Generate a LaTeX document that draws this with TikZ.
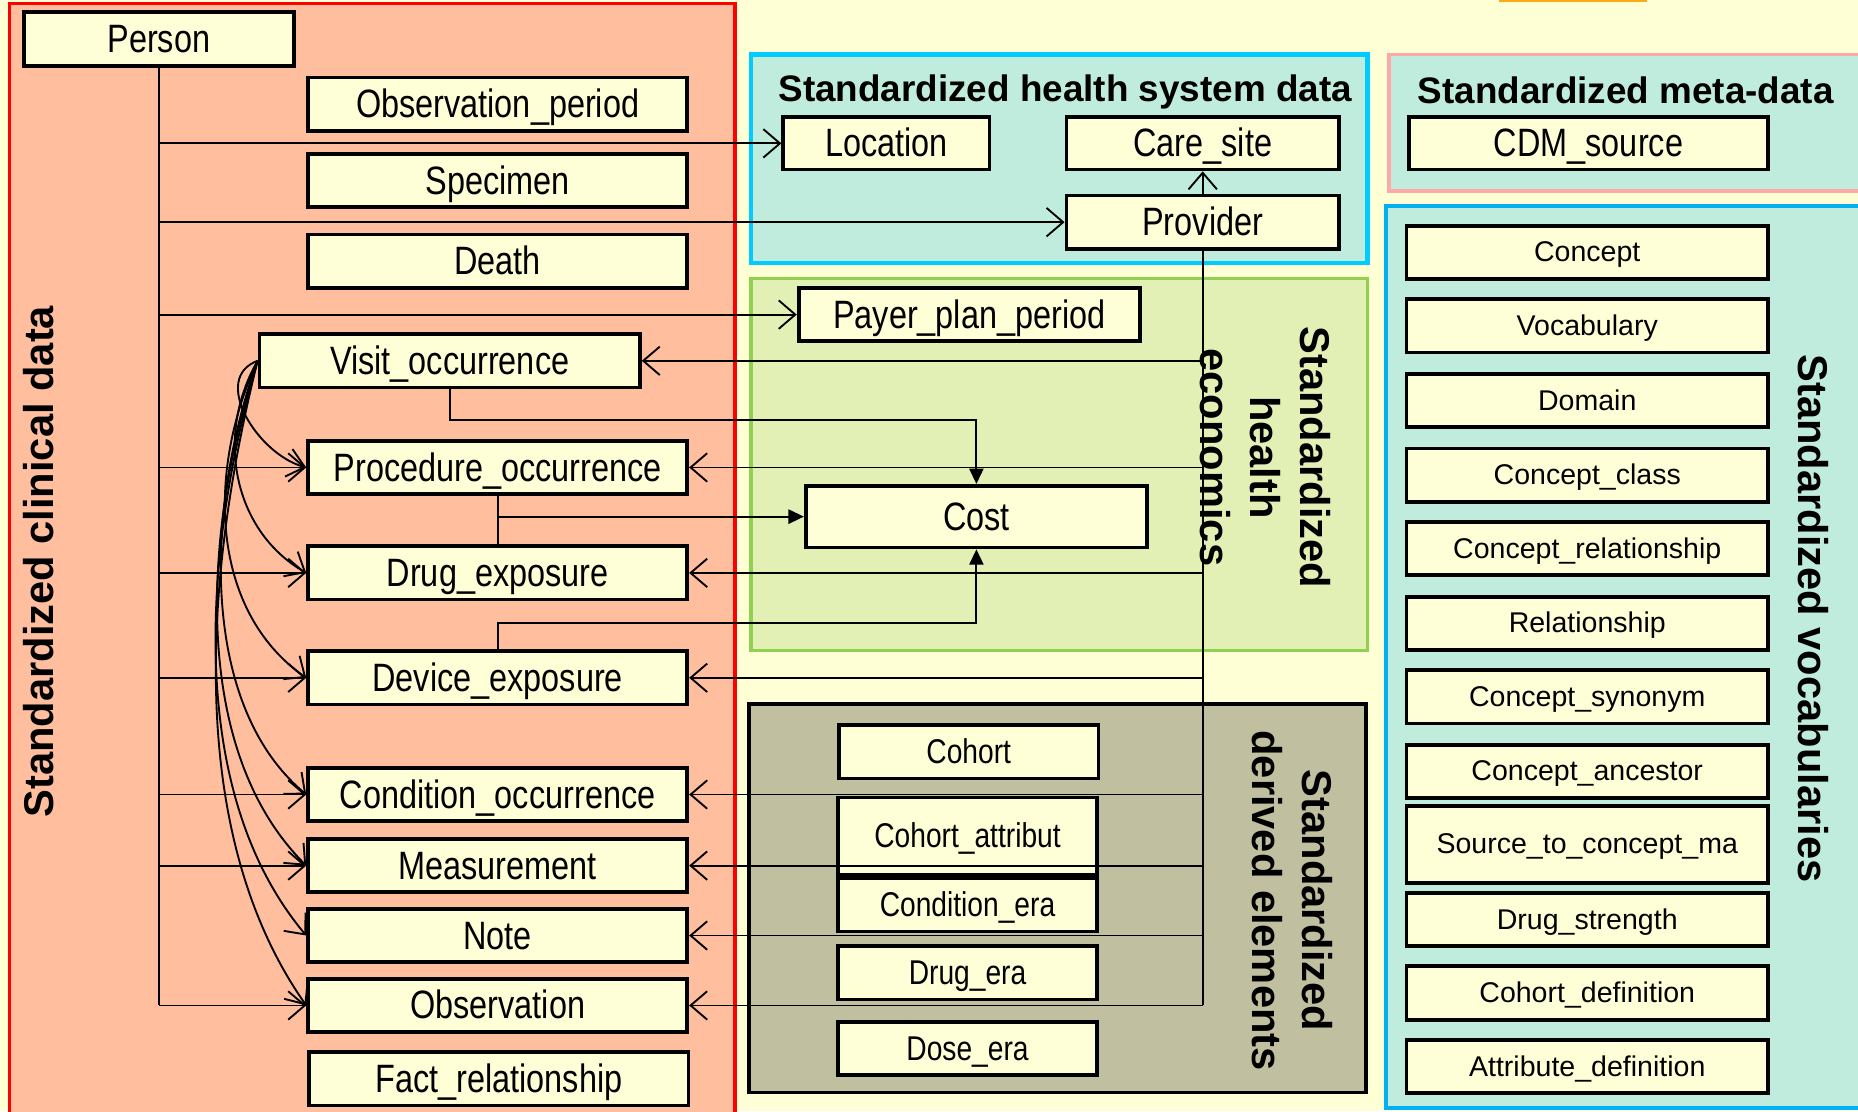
\documentclass[tikz,border=0pt]{standalone}
\usepackage{fontspec}
\setmainfont{Liberation Sans}
\newfontfamily\narrowfont[FakeStretch=0.82]{Liberation Sans}
\usepackage{xcolor}
\usepackage{tikz}
\usetikzlibrary{arrows.meta}

\definecolor{pagebg}{RGB}{255,255,213}
\definecolor{boxfill}{RGB}{255,255,215}
\definecolor{clinfill}{RGB}{255,190,158}
\definecolor{mintfill}{RGB}{192,236,222}
\definecolor{econfill}{RGB}{226,240,182}
\definecolor{econline}{RGB}{146,208,80}
\definecolor{derfill}{RGB}{192,192,160}
\definecolor{sysline}{RGB}{0,204,255}
\definecolor{vocline}{RGB}{0,176,240}
\definecolor{metaline}{RGB}{255,168,168}
\definecolor{tabcolor}{RGB}{250,170,20}

\newcommand{\tblfont}{\narrowfont\fontsize{19}{22}\selectfont}
\newcommand{\derfont}{\narrowfont\fontsize{16.5}{19}\selectfont}
\newcommand{\vocfont}{\fontsize{13.7}{16}\selectfont}
\newcommand{\hdrfont}{\bfseries\fontsize{17.7}{20}\selectfont}
\newcommand{\sidefont}{\bfseries\fontsize{20}{24}\selectfont}

\tikzset{
  tbl/.style={draw, line width=1.8pt, fill=boxfill, inner sep=0pt,
    minimum height=9mm, text height=13.4pt, text depth=0.4pt, font=\tblfont},
  clin/.style={tbl, minimum width=64mm},
  der/.style={tbl, minimum width=43.6mm, text height=11.6pt, font=\derfont},
  voc/.style={tbl, minimum width=61mm, text height=9.6pt, font=\vocfont},
  link/.style={line width=0.9pt},
  opn/.style={link, -{Straight Barb[length=2.8mm,width=4.8mm]}},
  fil/.style={link, -{Triangle[length=2.6mm,width=2.4mm]}}
}

\begin{document}
\begin{tikzpicture}[x=0.2mm, y=-0.2mm]
  \useasboundingbox (0,0) rectangle (1568,938);
  \clip (0,0) rectangle (1568,938);
  \fill[pagebg] (0,0) rectangle (1568,938);
  \fill[tabcolor] (1265,-2) rectangle (1390,1.5);

  % clinical data
  \filldraw[fill=clinfill, draw=red, line width=1.8pt] (8,3) rectangle (620,960);
  \node[font=\sidefont, rotate=90] (clintitle) at (33,474) {Standardized clinical data};
  \node[tbl, minimum width=45.6mm, minimum height=9.2mm] (person) at (134,33) {Person};
  \node[clin] (obsper) at (420,88) {Observation\_period};
  \node[clin] (spec) at (420,152.5) {Specimen};
  \node[clin] (death) at (420,220.5) {Death};
  \node[clin, minimum width=64.2mm] (visit) at (379.5,304.5) {Visit\_occurrence};
  \node[clin] (proc) at (420,394.5) {Procedure\_occurrence};
  \node[clin] (drug) at (420,483.5) {Drug\_exposure};
  \node[clin] (dev) at (420,572) {Device\_exposure};
  \node[clin] (cond) at (420,670.5) {Condition\_occurrence};
  \node[clin] (meas) at (420,730.5) {Measurement};
  \node[clin] (note) at (420,789.5) {Note};
  \node[clin] (obs) at (420,848.5) {Observation};
  \node[clin] (fact) at (421,910.5) {Fact\_relationship};

  % health system data
  \filldraw[fill=mintfill, draw=sysline, line width=2pt] (634,46) rectangle (1154,222);
  \node[font=\hdrfont] (systitle) at (899,77.5) {Standardized health system data};
  \node[tbl, minimum width=34.8mm, minimum height=8.8mm] (loc) at (748,121) {Location};
  \node[tbl, minimum width=46mm, minimum height=8.8mm] (care) at (1015,121) {Care\_site};
  \node[tbl, minimum width=46mm] (prov) at (1015,187.5) {Provider};

  % health economics
  \filldraw[fill=econfill, draw=econline, line width=1.8pt] (634,235) rectangle (1154,549);
  \node[font=\sidefont, rotate=-90, align=center] (econtitle) at (1068,386) {Standardized\\health\\economics};
  \node[tbl, minimum width=57.6mm] (payer) at (818,265.5) {Payer\_plan\_period};
  \node[tbl, minimum width=57.6mm, minimum height=10.4mm] (cost) at (824,436) {Cost};

  % derived elements
  \filldraw[fill=derfill, draw=black, line width=1.8pt] (632,594) rectangle (1153,922);
  \node[font=\sidefont, rotate=-90, align=center] (dertitle) at (1091,760) {Standardized\\derived elements};
  \node[der, minimum width=43.8mm] (cohort) at (817.5,634.5) {Cohort};
  \node[der, minimum height=13mm] (cohattr) at (816.5,705.5) {Cohort\_attribut};
  \node[der] (condera) at (816.5,763.5) {Condition\_era};
  \node[der] (drugera) at (816.5,821) {Drug\_era};
  \node[der] (doseera) at (816.5,885) {Dose\_era};

  % meta-data
  \filldraw[fill=mintfill, draw=metaline, line width=1.8pt] (1172,46) rectangle (1600,161);
  \node[font=\hdrfont] (metatitle) at (1372,76) {Standardized meta-data};
  \node[tbl, minimum width=60.6mm, minimum height=8.8mm] (cdm) at (1340.5,121) {CDM\_source};

  % vocabularies
  \filldraw[fill=mintfill, draw=vocline, line width=2pt] (1170,174) rectangle (1600,935);
  \node[font=\sidefont, rotate=-90] (voctitle) at (1530,522) {Standardized vocabularies};
  \node[voc] (concept) at (1339.5,213) {Concept};
  \node[voc] (vocab) at (1339.5,275) {Vocabulary};
  \node[voc] (domain) at (1339.5,338) {Domain};
  \node[voc] (cclass) at (1339.5,401) {Concept\_class};
  \node[voc] (crel) at (1339.5,463) {Concept\_relationship};
  \node[voc] (rel) at (1339.5,526) {Relationship};
  \node[voc] (csyn) at (1339.5,588) {Concept\_synonym};
  \node[voc] (canc) at (1339.5,651) {Concept\_ancestor};
  \node[voc, minimum height=13mm] (stcm) at (1339.5,712.5) {Source\_to\_concept\_ma};
  \node[voc] (dstr) at (1339.5,776) {Drug\_strength};
  \node[voc] (cohdef) at (1339.5,838) {Cohort\_definition};
  \node[voc] (attdef) at (1339.5,900) {Attribute\_definition};

  % person links
  \draw[link] (person.south) -- (person.south |- obs.west);
  \foreach \t in {loc,prov,payer,proc,drug,dev,cond,meas,obs}
    \draw[opn] (person.south |- \t.west) -- (\t.west);

  % visit links
  \foreach \t/\o/\i/\l in {proc/200/165/1.1, drug/240/150/1, dev/245/145/0.95,
                           cond/250/140/0.85, meas/252/135/0.85,
                           note/254/130/0.85, obs/256/125/0.85}
    \draw[opn] (visit.west) to[out=\o, in=\i, looseness=\l] (\t.west);

  % provider links
  \draw[opn] (prov.north) -- (care.south);
  \draw[link] (prov.south) -- (prov.south |- obs.east);
  \foreach \t in {visit,proc,drug,dev,cond,meas,note,obs}
    \draw[opn] (prov.south |- \t.east) -- (\t.east);

  % cost links
  \draw[fil] (visit.south) -- ++(0,26) -| (cost.north);
  \draw[link] (proc.south) -- (drug.north);
  \draw[fil] (proc.south |- cost.west) -- (cost.west);
  \draw[fil] (dev.north) -- ++(0,-22) -| (cost.south);
\end{tikzpicture}
\end{document}
